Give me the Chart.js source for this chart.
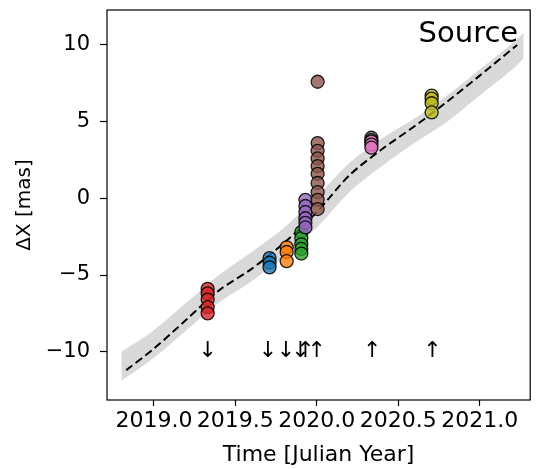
<!DOCTYPE html>
<html>
<head>
<meta charset="utf-8">
<script src="https://cdn.jsdelivr.net/npm/chart.js@4"></script>
<style>
  html, body { margin: 0; padding: 0; background: #fff; }
  canvas { display: block; }
</style>
</head>
<body>
<canvas id="astroChart" width="538" height="469"></canvas>
<script>
// axis ticks
const xTicks = [2019.0, 2019.5, 2020.0, 2020.5, 2021.0]
const yTicks = [-10, -5, 0, 5, 10]

// measured offsets per epoch (matplotlib colour cycle order)
const epochTimes = [2019.71, 2019.815, 2019.905, 2019.33, 2019.93, 2020.005, 2020.335, 2020.335, 2020.705]
const epochValues = [
  [-3.9, -4.2, -4.5],
  [-3.2, -3.5, -4.1],
  [-2.2, -2.6, -3.0, -3.3, -3.6],
  [-5.9, -6.2, -6.6, -7.1, -7.5],
  [-0.1, -0.5, -0.9, -1.3, -1.6, -1.9],
  [7.6, 3.6, 3.1, 2.6, 2.1, 1.6, 1.0, 0.4, -0.1, -0.7],
  [3.95, 3.8],
  [3.7, 3.5, 3.3],
  [6.7, 6.5, 6.2, 5.6]
]
const epochColors = ['#1f77b4', '#ff7f0e', '#2ca02c', '#d62728', '#9467bd', '#8c564b', '#7f7f7f', '#e377c2', '#bcbd22']

// best-fit track
const modelTimes = [2018.83, 2019.0, 2019.2, 2019.4, 2019.6, 2019.8, 2020.0, 2020.2, 2020.4, 2020.6, 2020.8, 2021.0, 2021.23]
const modelValues = [-11.2, -9.8, -7.9, -6.0, -4.6, -2.9, -0.9, 1.5, 3.2, 4.7, 6.3, 8.0, 10.0]

// uncertainty band
const bandTimes = [2018.80, 2019.0, 2019.2, 2019.4, 2019.6, 2019.8, 2020.0, 2020.2, 2020.4, 2020.6, 2020.8, 2021.0, 2021.2, 2021.27]
const bandUpper = [-10.0, -8.6, -6.8, -5.0, -3.5, -1.9, 0.1, 2.3, 3.9, 5.2, 6.7, 8.4, 10.1, 10.8]
const bandLower = [-11.9, -10.4, -8.6, -6.8, -5.4, -3.8, -1.9, 0.4, 2.1, 3.6, 5.0, 6.7, 8.4, 9.1]

// direction markers
const arrowTimes = [2019.33, 2019.70, 2019.81, 2019.90, 2019.93, 2020.00, 2020.34, 2020.71]
const arrowDirs = ['down', 'down', 'down', 'down', 'up', 'up', 'up', 'up']
const arrowLevel = -10

const FONT = 'DejaVu Sans'

const toPoints = (xs, ys) => xs.map((x, i) => ({ x, y: ys[i] }))

const hexAlpha = (hex, a) => {
  const n = parseInt(hex.slice(1), 16)
  return `rgba(${(n >> 16) & 255},${(n >> 8) & 255},${n & 255},${a})`
}

const datasets = []

datasets.push({
  type: 'line',
  data: toPoints(bandTimes, bandLower),
  borderWidth: 0,
  pointRadius: 0,
  tension: 0.3,
  fill: false,
  order: 1000
})
datasets.push({
  type: 'line',
  data: toPoints(bandTimes, bandUpper),
  borderWidth: 0,
  pointRadius: 0,
  tension: 0.3,
  fill: '-1',
  backgroundColor: 'rgba(128,128,128,0.3)',
  order: 999
})
datasets.push({
  type: 'line',
  data: toPoints(modelTimes, modelValues),
  borderColor: '#000',
  borderWidth: 2,
  borderDash: [8, 4],
  pointRadius: 0,
  tension: 0.3,
  fill: false,
  order: 998
})

epochValues.forEach((vals, i) => {
  datasets.push({
    type: 'scatter',
    data: vals.map(v => ({ x: epochTimes[i], y: v })),
    backgroundColor: hexAlpha(epochColors[i], 0.8),
    borderColor: 'rgba(0,0,0,0.85)',
    borderWidth: 1.3,
    pointRadius: 6.5,
    order: 100 - i
  })
})

const framePlugin = {
  id: 'frame',
  afterDatasetsDraw (chart) {
    const { ctx, chartArea: a, scales } = chart
    ctx.save()
    // arrows
    ctx.fillStyle = '#000'
    ctx.font = `22px "${FONT}"`
    ctx.textAlign = 'center'
    ctx.textBaseline = 'middle'
    arrowTimes.forEach((t, i) => {
      const px = scales.x.getPixelForValue(t)
      const py = scales.y.getPixelForValue(arrowLevel)
      ctx.fillText(arrowDirs[i] === 'up' ? '\u2191' : '\u2193', px, py)
    })
    // label
    ctx.font = `29px "${FONT}"`
    ctx.textAlign = 'right'
    ctx.fillText('Source', a.right - 12, a.top + 24)
    // axes box
    ctx.strokeStyle = '#000'
    ctx.lineWidth = 1.2
    ctx.strokeRect(a.left, a.top, a.right - a.left, a.bottom - a.top)
    ctx.restore()
  }
}

const config = {
  type: 'scatter',
  data: { datasets },
  options: {
    responsive: false,
    animation: false,
    events: [],
    layout: { padding: { top: 10, right: 7, left: 0, bottom: 0 } },
    plugins: {
      legend: { display: false },
      tooltip: { enabled: false }
    },
    scales: {
      x: {
        type: 'linear',
        min: 2018.712,
        max: 2021.31,
        afterBuildTicks: scale => { scale.ticks = xTicks.map(v => ({ value: v })) },
        afterFit: scale => {
          scale.height = 69
          scale.paddingLeft = 0
          scale.paddingRight = 0
        },
        grid: { drawOnChartArea: false, tickLength: 6, tickColor: '#000', tickWidth: 1.2 },
        border: { display: false },
        ticks: {
          color: '#000',
          padding: 2,
          maxRotation: 0,
          autoSkip: false,
          font: { family: FONT, size: 22 },
          callback: v => v.toFixed(1)
        },
        title: {
          display: true,
          text: 'Time [Julian Year]',
          color: '#000',
          font: { family: FONT, size: 22 },
          padding: { top: 0, bottom: 1 }
        }
      },
      y: {
        type: 'linear',
        min: -13.15,
        max: 12.28,
        afterBuildTicks: scale => { scale.ticks = yTicks.map(v => ({ value: v })) },
        afterFit: scale => {
          scale.width = 107
          scale.paddingTop = 0
          scale.paddingBottom = 0
        },
        grid: { drawOnChartArea: false, tickLength: 7, tickColor: '#000', tickWidth: 1.2 },
        border: { display: false },
        ticks: {
          color: '#000',
          padding: 10,
          autoSkip: false,
          font: { family: FONT, size: 21 },
          callback: v => String(v).replace('-', '\u2212')
        },
        title: {
          display: true,
          text: '\u0394X [mas]',
          color: '#000',
          font: { family: FONT, size: 20 },
          padding: { top: 13, bottom: 0 }
        }
      }
    }
  },
  plugins: [framePlugin]
}

new Chart(document.getElementById('astroChart'), config) // eslint-disable-line
</script>
</body>
</html>
